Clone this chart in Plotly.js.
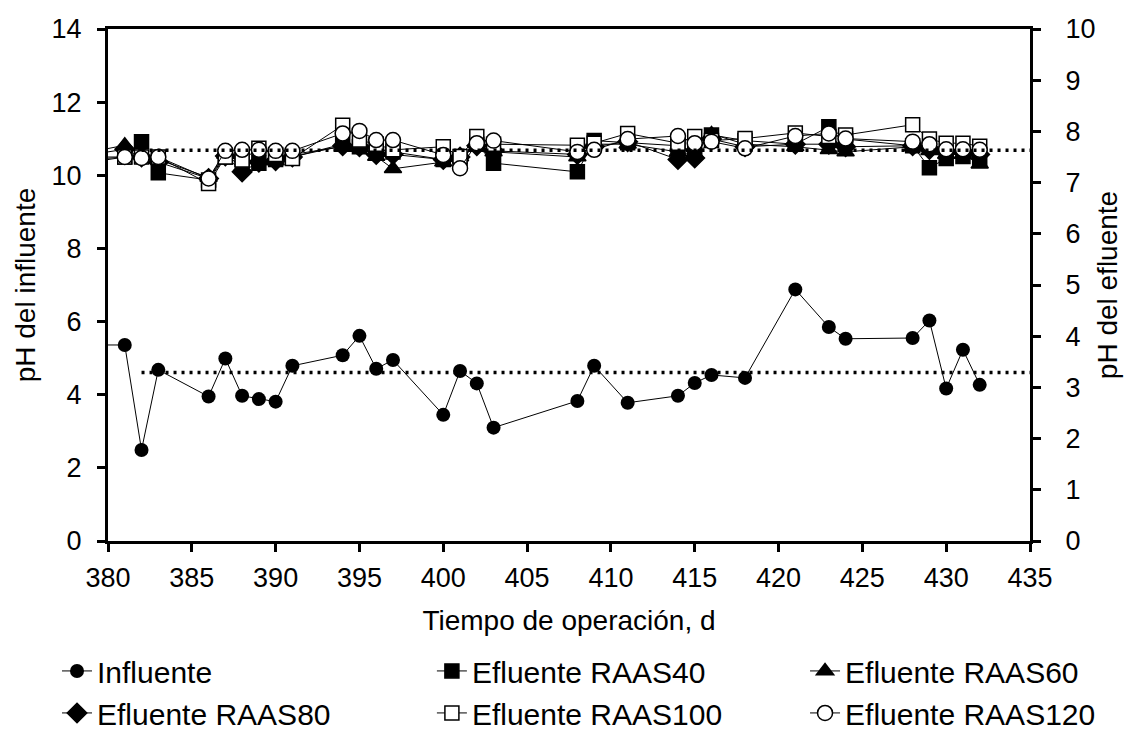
<!DOCTYPE html>
<html>
<head>
<meta charset="utf-8">
<script src="https://cdn.plot.ly/plotly-3.0.1.min.js"></script>
<style>html,body{margin:0;padding:0;background:#fff;}#chart{width:1128px;height:732px;}</style>
</head>
<body>
<div id="chart"></div>
<script>
// Days of operation (379 is just off the left edge; only its line stub is visible)
const days = [379, 381, 382, 383, 386, 387, 388, 389, 390, 391, 394, 395, 396, 397, 400, 401, 402, 403, 408, 409, 411, 414, 415, 416, 418, 421, 423, 424, 428, 429, 430, 431, 432];

// Influent pH (left axis)
const influente = [5.36, 5.36, 2.49, 4.68, 3.95, 4.99, 3.97, 3.88, 3.81, 4.79, 5.08, 5.61, 4.71, 4.95, 3.45, 4.65, 4.31, 3.10, 3.83, 4.79, 3.78, 3.97, 4.32, 4.54, 4.46, 6.88, 5.85, 5.53, 5.55, 6.03, 4.17, 5.23, 4.27];

// Effluent pH (right axis)
const raas40  = [7.45, 7.50, 7.80, 7.19, 7.05, 7.50, 7.45, 7.38, 7.45, 7.50, 7.75, 7.70, 7.65, 7.60, 7.45, 7.45, 7.75, 7.38, 7.21, 7.82, 7.78, 7.72, 7.60, 7.93, 7.82, 7.75, 8.09, 7.85, 7.72, 7.29, 7.47, 7.51, 7.44];
const raas60  = [7.60, 7.73, 7.55, 7.45, 7.10, 7.55, 7.30, 7.45, 7.42, 7.55, 7.70, 7.72, 7.51, 7.27, 7.40, 7.50, 7.70, 7.60, 7.50, 7.75, 7.75, 7.60, 7.55, 7.95, 7.75, 7.70, 7.64, 7.60, 7.70, 7.62, 7.55, 7.55, 7.36];
const raas80  = [7.55, 7.65, 7.50, 7.40, 7.08, 7.52, 7.21, 7.40, 7.43, 7.50, 7.72, 7.70, 7.55, 7.55, 7.45, 7.50, 7.72, 7.62, 7.55, 7.70, 7.80, 7.45, 7.48, 7.85, 7.70, 7.75, 7.75, 7.70, 7.72, 7.65, 7.60, 7.60, 7.55];
const raas100 = [7.40, 7.50, 7.50, 7.50, 6.98, 7.50, 7.44, 7.67, 7.55, 7.47, 8.12, 7.83, 7.75, 7.64, 7.70, 7.51, 7.90, 7.75, 7.73, 7.77, 7.96, 7.77, 7.90, 7.82, 7.86, 7.97, 7.90, 7.93, 8.13, 7.85, 7.77, 7.77, 7.71];
const raas120 = [7.50, 7.50, 7.48, 7.50, 7.08, 7.62, 7.64, 7.64, 7.62, 7.62, 7.96, 8.01, 7.83, 7.83, 7.54, 7.28, 7.77, 7.82, 7.60, 7.64, 7.85, 7.91, 7.77, 7.80, 7.67, 7.91, 7.96, 7.86, 7.80, 7.75, 7.65, 7.65, 7.64];

// Mean lines
const meanDays = [382, 435];
const meanInfluente = [4.61, 4.61];
const meanEfluente = [7.63, 7.63];

const xTicks = [380, 385, 390, 395, 400, 405, 410, 415, 420, 425, 430, 435];

const FONT = 'Liberation Sans, Arial, sans-serif';
const line = {color: '#000', width: 1};

function eff(name, y, symbol, fill, size, legendId) {
  return {
    x: days, y: y, name: name, yaxis: 'y2', type: 'scatter', mode: 'lines+markers',
    legend: legendId,
    line: line,
    marker: {symbol: symbol, size: size, color: fill, line: {color: '#000', width: 1.5}}
  };
}

const traces = [
  {x: days, y: influente, name: 'Influente', type: 'scatter', mode: 'lines+markers', legend: 'legend',
   line: line, marker: {symbol: 'circle', size: 14, color: '#000'}},
  eff('Efluente RAAS40', raas40, 'square', '#000', 14, 'legend2'),
  eff('Efluente RAAS60', raas60, 'triangle-up', '#000', 15, 'legend3'),
  eff('Efluente RAAS80', raas80, 'diamond', '#000', 15, 'legend'),
  eff('Efluente RAAS100', raas100, 'square', '#fff', 14, 'legend2'),
  eff('Efluente RAAS120', raas120, 'circle', '#fff', 15, 'legend3'),
  {x: meanDays, y: meanInfluente, type: 'scatter', mode: 'lines', showlegend: false,
   line: {color: '#000', width: 3.5, dash: '3px,5px'}, hoverinfo: 'skip'},
  {x: meanDays, y: meanEfluente, yaxis: 'y2', type: 'scatter', mode: 'lines', showlegend: false,
   line: {color: '#000', width: 3.5, dash: '3px,5px'}, hoverinfo: 'skip'}
];

const axisCommon = {
  showgrid: false, zeroline: false, showline: true, linecolor: '#000', linewidth: 3,
  ticks: 'outside', ticklen: 8, tickwidth: 3, tickcolor: '#000',
  tickfont: {family: FONT, size: 27, color: '#000'}
};

const legendCommon = {
  orientation: 'v', xanchor: 'left', y: -0.203, yanchor: 'top',
  font: {family: FONT, size: 30, color: '#000'},
  bgcolor: 'rgba(0,0,0,0)', tracegroupgap: 0
};

const layout = {
  width: 1128, height: 732,
  margin: {l: 108, r: 98, t: 29, b: 191, autoexpand: false},
  paper_bgcolor: '#fff', plot_bgcolor: '#fff',
  font: {family: FONT, color: '#000'},
  showlegend: true,
  xaxis: Object.assign({}, axisCommon, {
    range: [380, 435], tickvals: xTicks, mirror: true, ticklabelstandoff: 3,
    title: {text: 'Tiempo de operación, d', font: {family: FONT, size: 28, color: '#000'}, standoff: 18}
  }),
  yaxis: Object.assign({}, axisCommon, {
    range: [0, 14], dtick: 2, ticklabelstandoff: 10,
    title: {text: 'pH del influente', font: {family: FONT, size: 28, color: '#000'}, standoff: 8}
  }),
  yaxis2: Object.assign({}, axisCommon, {
    range: [0, 10], dtick: 1, overlaying: 'y', side: 'right', ticklabelstandoff: 19,
    title: {text: 'pH del efluente', font: {family: FONT, size: 28, color: '#000'}, standoff: 3}
  }),
  legend: Object.assign({}, legendCommon, {x: -0.0553}),
  legend2: Object.assign({}, legendCommon, {x: 0.3513}),
  legend3: Object.assign({}, legendCommon, {x: 0.756})
};

Plotly.newPlot('chart', traces, layout, {displayModeBar: false, staticPlot: true});
</script>
</body>
</html>
